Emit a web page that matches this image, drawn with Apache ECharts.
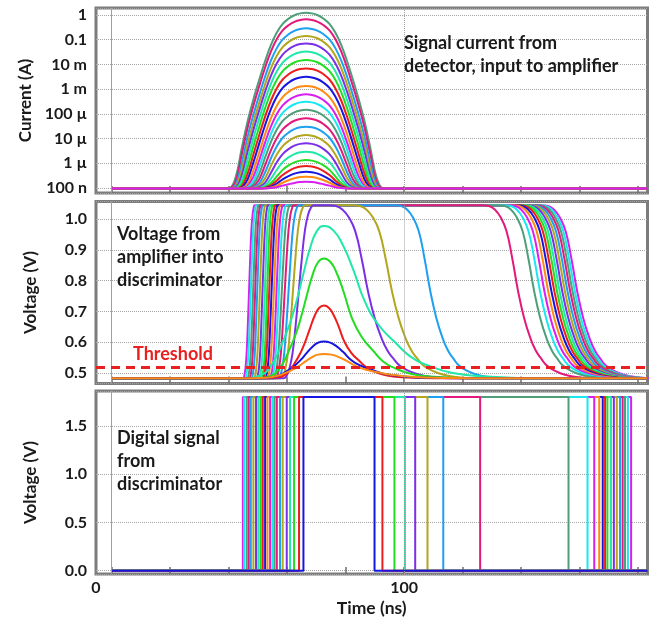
<!DOCTYPE html>
<html>
<head>
<meta charset="utf-8">
<script src="https://cdn.jsdelivr.net/npm/echarts@6/dist/echarts.min.js"></script>
<style>
  html, body { margin: 0; padding: 0; background: #fff; }
  #chart { width: 650px; height: 619px; }
</style>
</head>
<body>
<div id="chart"></div>
<script>
// ---- time axis (ns) ----
const timeTicks = [0, 20, 40, 60, 80, 100, 120, 140, 160, 180];
const timeMin = -5.3;
const timeMax = 183.2;
const timeStart = 0;
const timeEnd = 183.2;

// colour of curve i is curveColors[i % 12], i = 0 is the smallest signal
const curveColors = ['#d81ef0', '#ff8a12', '#1616e0', '#ee1c1c', '#22dd22', '#1fe8a8',
                     '#7a30e8', '#b3a61c', '#1ea0f0', '#e3197b', '#4f9e7a', '#18e8f0'];

// ---- panel 1 : current (A), log scale ----
const currentTickLabels = ['100 n', '1 µ', '10 µ', '100 µ', '1 m', '10 m', '0.1', '1']; // 1e-7 .. 1
const currentBaseline = 9.5e-8;
const currentPeakTime = 66.5;
const currentPeaks = [1.78e-7, 2.88e-7, 4.57e-7, 7.76e-7, 1.35e-6, 2.95e-6, 6.46e-6, 1.38e-5,
                      3.02e-5, 6.61e-5, 1.45e-4, 3.09e-4, 6.17e-4, 1.35e-3, 3.16e-3, 6.92e-3,
                      0.0151, 0.0331, 0.0708, 0.141, 0.288, 0.668, 1.23];
// pulse profile: decades below the peak vs time from the peak
const pulseOffsets = [-30, -28, -26, -24, -22, -20, -18, -16, -14, -12, -10, -8, -6, -4, -2, 0,
                      2, 4, 6, 8, 10, 12, 14, 16, 18, 20, 22, 24, 26, 28, 30];
const pulseDecadesDown = [12, 10, 8.3, 6.8, 5.5, 4.4, 3.5, 2.7, 1.95, 1.3, 0.8, 0.45, 0.24, 0.1, 0.025, 0,
                          0.025, 0.1, 0.24, 0.45, 0.8, 1.3, 1.95, 2.7, 3.5, 4.4, 5.5, 6.8, 8.3, 10, 12];

// ---- panel 2 : amplifier output (V) ----
const voltBaseline = 0.483;
const voltSaturation = 1.045;
const thresholdVolt = 0.515;
// curves 1..5 stay below saturation
const bumpTime = 72.6;
const bumpPeaks = [0.562, 0.602, 0.719, 0.872, 0.977];
const bumpLeftStretch = [1.4, 1.3, 1.05, 1.3, 1.55];
const bumpRightStretch = [1.7, 1.45, 1.1, 1.5, 2.2];
const bumpOffsets = [-18, -14, -11.5, -9.2, -7.5, -6.1, -4.5, -3, -1.5, 0, 1.5, 3, 4.5, 6.4, 8.5, 11.2, 13.5, 15.8, 20, 26, 34];
const bumpShape = [0, 0.02, 0.09, 0.23, 0.36, 0.5, 0.69, 0.86, 0.97, 1, 0.97, 0.87, 0.72, 0.5, 0.35, 0.23, 0.14, 0.09, 0.035, 0.01, 0];
// curves 6..24 hit saturation: mid-swing times and edge spans (ns)
const satRiseMid = [64.0, 62.0, 60.5, 59.2, 58.2, 57.2, 56.4, 55.5, 54.7, 53.9, 53.2, 52.4, 51.6, 50.7, 49.8, 49.1, 48.4, 47.6, 47.0];
const satRiseSpan = [5.2, 4.2, 3.6, 3.2, 2.9, 2.6, 2.3, 2.3, 2.2, 2.2, 2.0, 2.0, 2.0, 2.0, 2.0, 2.0, 2.0, 2.0, 2.0];
const satFallMid = [87.7, 95.9, 109.0, 139.0, 144.5, 146.5, 148.0, 149.3, 150.4, 151.4, 152.3, 153.2, 154.1, 155.0, 155.9, 156.8, 157.6, 158.4, 159.2];
const satFallSpan = [11, 11, 10, 10, 10, 10, 10, 10, 10, 10, 10, 10, 10, 10, 10, 10, 10, 10, 10];
const riseU = [-1, -0.8, -0.6, -0.4, -0.2, 0, 0.2, 0.4, 0.6, 0.8, 1];
const riseShape = [0, 0.015, 0.06, 0.15, 0.31, 0.5, 0.69, 0.85, 0.94, 0.985, 1];
const fallU = [-1.2, -1, -0.8, -0.6, -0.4, -0.2, 0, 0.2, 0.4, 0.6, 0.8, 1.0, 1.3, 1.6, 2.0, 2.5];
const fallShape = [1, 0.995, 0.975, 0.93, 0.85, 0.69, 0.5, 0.35, 0.24, 0.16, 0.11, 0.07, 0.04, 0.02, 0.007, 0];

// ---- panel 3 : discriminator output (V), curves 2..24 ----
const digitalHigh = 1.8;
const digitalRise = [65.6, 64.1, 62.4, 61.0, 59.9, 58.5, 57.6, 56.5, 55.7, 55.0, 54.2, 53.3, 52.5, 51.7,
                     51.0, 50.2, 49.4, 48.5, 47.6, 46.9, 46.2, 45.3, 44.9];
const digitalFall = [89.9, 92.6, 96.7, 100.3, 103.8, 108.0, 113.4, 126.0, 156.2, 162.7, 165.0, 166.7,
                     167.9, 168.7, 169.5, 170.7, 171.7, 172.7, 173.8, 174.7, 175.5, 176.5, 177.6];

const FONT = 'Lato';
const TEXT = '#1a1a1a';

const chart = echarts.init(document.getElementById('chart'), null, { renderer: 'canvas' });

function colorOf(i) { return curveColors[i % curveColors.length]; }

function lineSeries(grid, i, data, smooth) {
  return {
    type: 'line', xAxisIndex: grid, yAxisIndex: grid, data: data,
    showSymbol: false, symbol: 'none', smooth: smooth,
    silent: true, animation: false,
    lineStyle: { color: colorOf(i), width: 2 }
  };
}

function currentCurve(i) {
  const amp = currentPeaks[i] - currentBaseline;
  const pts = [[timeStart, currentBaseline]];
  pulseOffsets.forEach((dt, k) => {
    pts.push([currentPeakTime + dt, amp * Math.pow(10, -pulseDecadesDown[k]) + currentBaseline]);
  });
  pts.push([timeEnd, currentBaseline]);
  return pts;
}

function bumpCurve(j) {
  const amp = bumpPeaks[j] - voltBaseline;
  const pts = [[timeStart, voltBaseline]];
  bumpOffsets.forEach((dt, k) => {
    const s = dt < 0 ? bumpLeftStretch[j] : bumpRightStretch[j];
    pts.push([bumpTime + dt * s, voltBaseline + amp * bumpShape[k]]);
  });
  pts.push([timeEnd, voltBaseline]);
  return pts;
}

function satCurve(j) {
  const swing = voltSaturation - voltBaseline;
  const pts = [[timeStart, voltBaseline]];
  riseU.forEach((u, k) => pts.push([satRiseMid[j] + u * satRiseSpan[j], voltBaseline + swing * riseShape[k]]));
  fallU.forEach((u, k) => pts.push([satFallMid[j] + u * satFallSpan[j], voltBaseline + swing * fallShape[k]]));
  pts.push([timeEnd, voltBaseline]);
  return pts;
}

function digitalCurve(j) {
  return [[timeStart, 0], [digitalRise[j], 0], [digitalRise[j], digitalHigh],
          [digitalFall[j], digitalHigh], [digitalFall[j], 0], [timeEnd, 0]];
}

// vertical reference lines at t = 0 (solid) and t = 100 (dotted)
function refLines(grid, yVal) {
  return {
    type: 'line', xAxisIndex: grid, yAxisIndex: grid, data: [[timeStart, yVal]],
    symbol: 'none', silent: true, animation: false, lineStyle: { opacity: 0 },
    markLine: {
      silent: true, symbol: 'none', animation: false, label: { show: false },
      data: [
        { xAxis: 0, lineStyle: { color: '#a0a0a0', width: 1, type: 'solid' } },
        { xAxis: 100, lineStyle: { color: '#a0a0a0', width: 1, type: 'dotted' } }
      ]
    }
  };
}

const series = [];
series.push(refLines(0, currentBaseline));
series.push(refLines(1, voltBaseline));
series.push(refLines(2, 0));

for (let i = currentPeaks.length - 1; i >= 0; i--) {
  series.push(lineSeries(0, i, currentCurve(i), 0.4));
}
for (let j = satRiseMid.length - 1; j >= 0; j--) {
  series.push(lineSeries(1, j + 6, satCurve(j), 0.5));
}
for (let j = bumpPeaks.length - 1; j >= 0; j--) {
  series.push(lineSeries(1, j + 1, bumpCurve(j), 0.5));
}
// threshold
series.push({
  type: 'line', xAxisIndex: 1, yAxisIndex: 1, data: [[timeStart, thresholdVolt]],
  symbol: 'none', silent: true, animation: false, lineStyle: { opacity: 0 }, z: 5,
  markLine: {
    silent: true, symbol: 'none', animation: false, label: { show: false },
    data: [{ yAxis: thresholdVolt }],
    lineStyle: { color: '#e82020', width: 3, type: [9, 6] }
  }
});
for (let j = digitalRise.length - 1; j >= 0; j--) {
  series.push(lineSeries(2, j + 2, digitalCurve(j), false));
}

const grids = [
  { left: 96, top: 8, width: 551.5, height: 185 },
  { left: 96, top: 201.5, width: 551.5, height: 182 },
  { left: 96, top: 391, width: 551.5, height: 183 }
];

function xAxisFor(i) {
  const bottom = i === 2;
  return {
    type: 'value', gridIndex: i, min: timeMin, max: timeMax,
    axisLine: { show: false, onZero: false },
    axisTick: { show: true, inside: true, length: 7, customValues: timeTicks,
                lineStyle: { color: '#6e6e6e', width: 1.5 } },
    splitLine: { show: false },
    axisLabel: bottom ? {
      show: true, customValues: [timeMin, 100], margin: 6,
      formatter: v => (v < 50 ? '0' : String(Math.round(v))),
      fontFamily: FONT, fontWeight: 'bold', fontSize: 16, color: TEXT
    } : { show: false },
    name: bottom ? 'Time (ns)' : '',
    nameLocation: 'middle', nameGap: 25,
    nameTextStyle: { fontFamily: FONT, fontWeight: 'bold', fontSize: 17.5, color: TEXT }
  };
}

const yCommon = {
  axisLine: { show: false },
  axisTick: { show: false },
  splitLine: { show: true, lineStyle: { color: '#a5a5a5', width: 1, type: 'dotted' } },
  nameLocation: 'middle', nameGap: 57,
  nameTextStyle: { fontFamily: FONT, fontWeight: 'bold', fontSize: 17, color: TEXT }
};
const yLabel = { fontFamily: FONT, fontWeight: 'bold', fontSize: 16, color: TEXT, margin: 9 };

const annot = { fill: TEXT, fontFamily: FONT, fontWeight: 'bold', fontSize: 18, lineHeight: 23, verticalAlign: 'top' };

const option = {
  animation: false,
  backgroundColor: '#ffffff',
  textStyle: { fontFamily: FONT },
  grid: grids.map(g => Object.assign({ show: true, borderColor: '#7c7c7c', borderWidth: 3, backgroundColor: 'transparent' }, g)),
  xAxis: [xAxisFor(0), xAxisFor(1), xAxisFor(2)],
  yAxis: [
    Object.assign({}, yCommon, {
      type: 'log', logBase: 10, gridIndex: 0, min: 6.277e-8, max: 1.919, name: 'Current (A)',
      axisLabel: Object.assign({}, yLabel, {
        formatter: v => {
          const e = Math.log10(v);
          if (Math.abs(e - Math.round(e)) > 1e-6) return '';
          const k = Math.round(e) + 7;
          return currentTickLabels[k] || '';
        }
      })
    }),
    Object.assign({}, yCommon, {
      type: 'value', gridIndex: 1, min: 0.4659, max: 1.0568, splitNumber: 5, name: 'Voltage (V)',
      axisLabel: Object.assign({}, yLabel, {
        formatter: v => (Math.abs(v * 10 - Math.round(v * 10)) < 1e-6 ? v.toFixed(1) : '')
      })
    }),
    Object.assign({}, yCommon, {
      type: 'value', gridIndex: 2, min: -0.034, max: 1.861, splitNumber: 4, name: 'Voltage (V)',
      axisLabel: Object.assign({}, yLabel, {
        formatter: v => (Math.abs(v * 2 - Math.round(v * 2)) < 1e-6 ? v.toFixed(1) : '')
      })
    })
  ],
  graphic: [
    { type: 'text', x: 404, y: 32, z: 100,
      style: Object.assign({}, annot, { text: 'Signal current from\ndetector, input to amplifier', lineHeight: 22.5 }) },
    { type: 'text', x: 117, y: 222.5, z: 100,
      style: Object.assign({}, annot, { text: 'Voltage from\namplifier into\ndiscriminator' }) },
    { type: 'text', x: 133, y: 342.5, z: 100,
      style: Object.assign({}, annot, { text: 'Threshold', fill: '#e82020' }) },
    { type: 'text', x: 117, y: 426.5, z: 100,
      style: Object.assign({}, annot, { text: 'Digital signal\nfrom\ndiscriminator' }) }
  ],
  series: series
};

chart.setOption(option);
</script>
</body>
</html>
